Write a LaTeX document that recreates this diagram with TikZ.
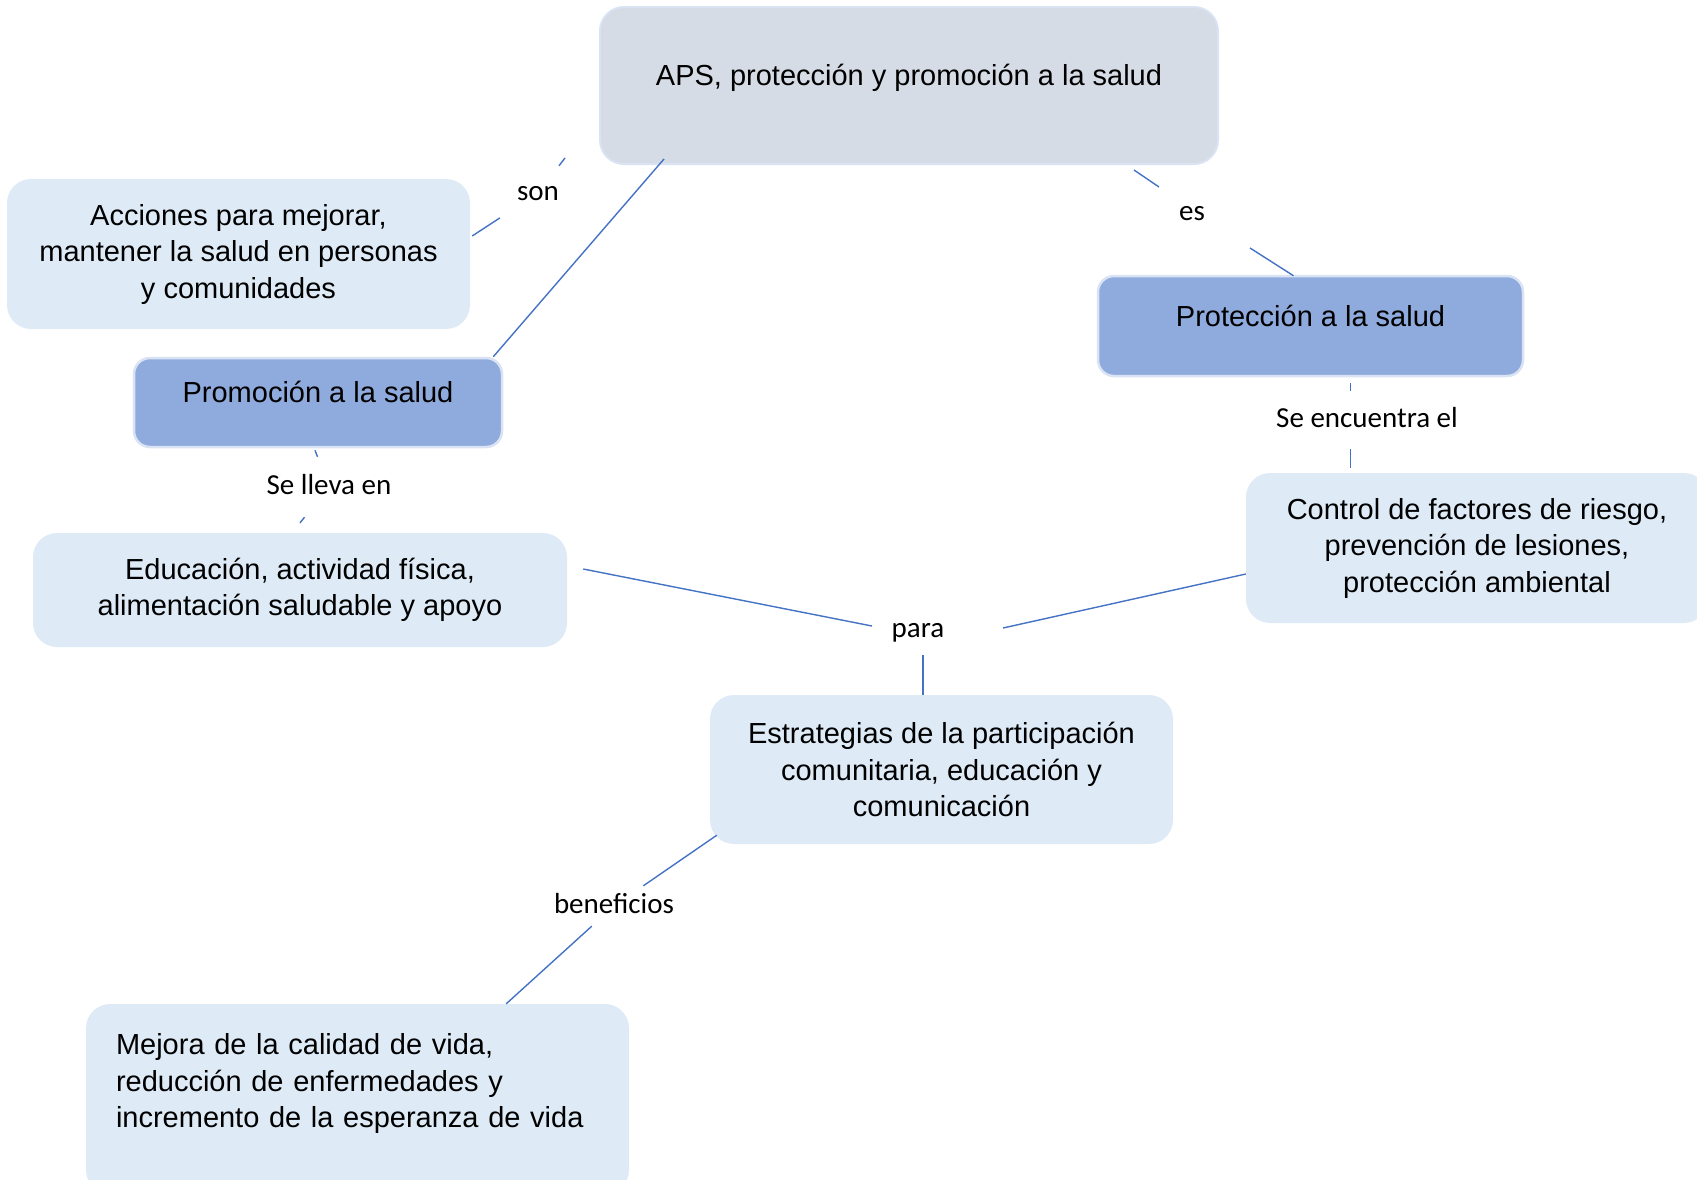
\documentclass[tikz,border=0pt]{standalone}
\usepackage{fontspec}
\setmainfont{Liberation Sans}
\newfontfamily\lblfont{Carlito}
\usepackage{tikz}
\definecolor{linkblue}{HTML}{4472C4}
\definecolor{lightfill}{HTML}{DEEBF7}
\definecolor{darkfill}{HTML}{8FAADC}
\definecolor{rootfill}{HTML}{D6DCE5}
\definecolor{rim}{HTML}{DAE3F3}
\tikzstyle{link} = [draw, linkblue, line width=1.4pt]
\tikzstyle{concept} = [rectangle, rounded corners=24pt, fill=lightfill, align=center, inner sep=0pt, font=\fontsize{29}{36.5}\selectfont]
\tikzstyle{topic} = [concept, rounded corners=16pt, fill=darkfill, draw=rim, line width=2.5pt, text height=20pt, text depth=20pt]
\tikzstyle{root} = [concept, fill=rootfill, draw=rim, line width=2pt, text height=20pt, text depth=20pt]
\tikzstyle{phrase} = [inner sep=0pt, font=\lblfont\fontsize{29}{34}\selectfont, text height=20pt, text depth=6pt]

\begin{document}
\begin{tikzpicture}[x=1pt, y=-1pt]
    \useasboundingbox (0,0) rectangle (1697,1179);
        \node[root, minimum width=618pt, minimum height=157pt] (aps) at (909,85.5) {APS, protección y promoción a la salud};
        \node[concept, minimum width=463pt, minimum height=150pt] (acc) at (238.5,254) {Acciones para mejorar,\\ mantener la salud en personas\\ y comunidades};
        \node[topic, minimum width=368pt, minimum height=89pt] (pro) at (318,402.5) {Promoción a la salud};
        \node[topic, minimum width=425pt, minimum height=100pt] (prt) at (1310.5,326) {Protección a la salud};
        \node[concept, minimum width=534pt, minimum height=114pt] (edu) at (300,590) {Educación, actividad física,\\ alimentación saludable y apoyo};
        \node[concept, minimum width=462pt, minimum height=150pt] (ctl) at (1477,548) {Control de factores de riesgo,\\ prevención de lesiones,\\ protección ambiental};
        \node[concept, minimum width=463pt, minimum height=149pt] (est) at (941.5,769.5) {Estrategias de la participación\\ comunitaria, educación y\\ comunicación};
        \node[concept, align=left, text width=483pt, minimum width=543pt, minimum height=190pt] (mej) at (357.5,1099) {Mejora de la calidad de vida,\\ reducción de enfermedades y\\ incremento de la esperanza de vida\\ \mbox{}};
        \node[phrase, minimum width=76pt, minimum height=54pt] (son) at (538,193) {son};
        \node[phrase] (es) at (1192,213) {es};
        \node[phrase, minimum width=140pt, minimum height=60pt] (lleva) at (329,487) {Se lleva en};
        \node[phrase, minimum width=200pt, minimum height=58pt] (encuentra) at (1367,420) {Se encuentra el};
        \node[phrase] (para) at (918,630) {para};
        \node[phrase, minimum width=130pt, minimum height=40pt] (beneficios) at (614,906) {beneficios};
        \coordinate (enc) at ([xshift=40pt,yshift=-6pt]prt.south);
        \path[link] ([xshift=-34pt,yshift=7pt]aps.south west) -- (son) -- ([xshift=2pt,yshift=18pt]acc.east);
        \path[link] ([xshift=65pt,yshift=6pt]aps.south west) -- ([xshift=-10pt]pro.north east);
        \path[link] ([xshift=-85pt,yshift=-5pt]aps.south east) -- ([xshift=-33pt,yshift=26pt]es.center);
        \path[link] ([xshift=58pt,yshift=-35pt]es.center) -- ([xshift=-17pt,yshift=-1pt]prt.north);
        \path[link] ([xshift=-3pt,yshift=-2pt]pro.south) -- (lleva) -- ([yshift=10pt]edu.north);
        \path[link] (enc) -- (enc |- encuentra.north);
        \path[link] (enc |- encuentra.south) -- ([yshift=5pt]enc |- ctl.north);
        \path[link] ([xshift=16pt,yshift=21pt]edu.east) -- ([xshift=-46pt,yshift=4pt]para.center);
        \path[link] ([yshift=-26pt]ctl.west) -- ([xshift=85pt,yshift=2pt]para.center);
        \path[link] ([xshift=5pt,yshift=-25pt]para.center) -- ([xshift=5pt]para.center |- est.north);
        \path[link] ([xshift=7pt,yshift=9pt]est.south west) -- (beneficios) -- ([xshift=-123pt]mej.north east);
    \end{tikzpicture}
\end{document}
